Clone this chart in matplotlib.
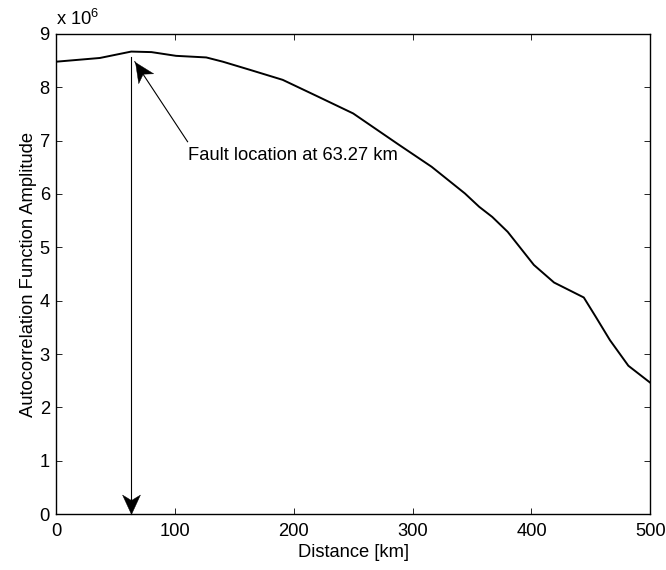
import numpy as np
import matplotlib
matplotlib.use("Agg")
import matplotlib.pyplot as plt
from matplotlib.path import Path
from matplotlib.markers import MarkerStyle
from matplotlib.transforms import Affine2D

plt.rcParams['font.family'] = ['Liberation Sans', 'DejaVu Sans']
plt.rcParams['mathtext.fontset'] = 'custom'
plt.rcParams['mathtext.rm'] = 'Liberation Sans'

# autocorrelation amplitude (x 1e6) against distance along the line
dist_km = [0, 36.9, 63.27, 80.3, 101, 126.4, 140.4, 162.8, 190.7, 220,
           250, 288, 316, 344, 356, 367, 380, 402, 419, 444, 454, 466,
           481.5, 500]
amp_e6 = [8.48, 8.55, 8.67, 8.66, 8.59, 8.56, 8.48, 8.33, 8.14, 7.83,
          7.51, 6.93, 6.51, 6.01, 5.76, 5.57, 5.29, 4.67, 4.34, 4.06, 3.70,
          3.26, 2.78, 2.46]

fault_km = 63.27
note_xy = (110.7, 6.98)    # where the callout line leaves the label
note_tip = (66.3, 8.48)

FS = 13.2

fig = plt.figure(figsize=(6.66, 5.70), dpi=100)
ax = fig.add_axes([0.0841, 0.0982, 0.9765 - 0.0841, 0.9404 - 0.0982])

ax.plot(dist_km, amp_e6, color='black', lw=1.4)

ax.set_xlim(0, 500)
ax.set_ylim(0, 9)
ax.set_xticks(np.arange(0, 501, 100))
ax.set_yticks(np.arange(0, 10, 1))
ax.tick_params(direction='in', length=4, width=0.6, top=True, right=True,
               labelsize=FS)
ax.tick_params(axis='x', pad=6.5)
ax.tick_params(axis='y', pad=4.5)
for s in ax.spines.values():
    s.set_linewidth(1.0)

ax.set_xlabel('Distance [km]', fontsize=FS, labelpad=3)
ax.set_ylabel('Autocorrelation Function Amplitude', fontsize=FS, labelpad=2)
ax.text(0, 1.01, r'x 10$^{6}$', transform=ax.transAxes, fontsize=FS,
        ha='left', va='bottom')


def head(angle):
    # concave arrow head, tip at the origin, pointing along +x
    verts = [(0, 0), (-1, 0.46), (-0.72, 0), (-1, -0.46), (0, 0)]
    codes = [Path.MOVETO, Path.LINETO, Path.LINETO, Path.LINETO, Path.CLOSEPOLY]
    return MarkerStyle(Path(verts, codes),
                       transform=Affine2D().rotate_deg(angle))


def arrow(x0, y0, x1, y1):
    ax.plot([x0, x1], [y0, y1], color='black', lw=0.8, clip_on=False)
    p0 = ax.transData.transform((x0, y0))
    p1 = ax.transData.transform((x1, y1))
    ang = np.degrees(np.arctan2(p1[1] - p0[1], p1[0] - p0[0]))
    ax.plot([x1], [y1], marker=head(ang), ms=28, color='black',
            mec='black', mew=0.3, clip_on=False, zorder=5)


arrow(fault_km, 8.57, fault_km, 0)
arrow(note_xy[0], note_xy[1], note_tip[0], note_tip[1])
ax.text(110.7, 6.73, 'Fault location at %.2f km' % fault_km, fontsize=FS,
        ha='left', va='center')

fig.savefig('out.png', dpi=100)
